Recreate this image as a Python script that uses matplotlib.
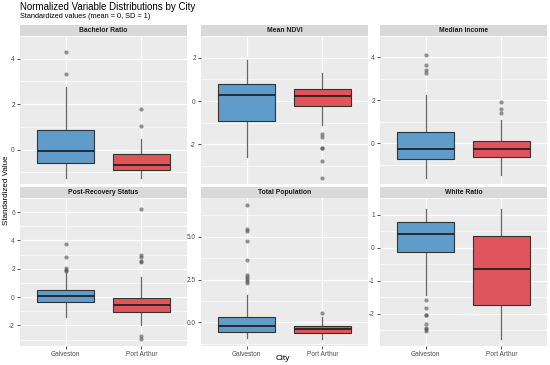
import matplotlib
matplotlib.use("Agg")
import matplotlib.pyplot as plt
import numpy as np

plt.rcParams["font.family"] = ["Liberation Sans", "DejaVu Sans"]

# Painéis e cidades
paineis = ["Bachelor Ratio", "Mean NDVI", "Median Income",
           "Post-Recovery Status", "Total Population", "White Ratio"]
cidades = ["Galveston", "Port Arthur"]

# Estatísticas do boxplot - Galveston
galv_whislo = [-1.24, -2.60, -1.60, -1.39, -0.94, -1.42]
galv_q1 = [-0.60, -0.93, -0.74, -0.34, -0.55, -0.12]
galv_med = [-0.07, 0.28, -0.24, 0.07, -0.20, 0.40]
galv_q3 = [0.87, 0.77, 0.54, 0.48, 0.33, 0.78]
galv_whishi = [2.76, 1.89, 2.27, 1.72, 1.60, 1.17]
galv_fliers = [
    [4.30, 3.31],
    [],
    [4.13, 3.66, 3.42, 3.28],
    [3.75, 2.81, 2.08, 1.95, 1.81],
    [6.88, 5.44, 5.36, 4.77, 3.63, 2.75, 2.63, 2.51, 2.43, 2.32],
    [-1.60, -1.83, -2.03, -2.05, -2.32, -2.43, -2.47, -2.53],
]

# Port Arthur
pa_whislo = [-1.24, -1.11, -1.48, -1.94, -0.99, -2.78]
pa_q1 = [-0.92, -0.22, -0.64, -1.05, -0.62, -1.75]
pa_med = [-0.67, 0.24, -0.28, -0.57, -0.39, -0.65]
pa_q3 = [-0.19, 0.58, 0.12, -0.09, -0.20, 0.35]
pa_whishi = [0.45, 1.30, 1.11, 1.40, 0.33, 1.17]
pa_fliers = [
    [1.80, 1.04],
    [-1.52, -1.65, -2.18, -2.18, -2.75, -3.55],
    [1.94, 1.61, 1.43],
    [6.23, 3.01, 2.85, 2.56, 2.49, -2.71, -2.99],
    [0.53],
    [],
]

# Marcas do eixo y por painel
yticks = [[0, 2, 4], [-2, 0, 2], [0, 2, 4], [-2, 0, 2, 4, 6],
          [0.0, 2.5, 5.0], [-2, -1, 0, 1]]
yticklabels = [["0", "2", "4"], ["-2", "0", "2"], ["0", "2", "4"],
               ["-2", "0", "2", "4", "6"], ["0.0", "2.5", "5.0"],
               ["-2", "-1", "0", "1"]]

cores = ["#5f9cca", "#e0555c"]

W, H = 550, 365
fig = plt.figure(figsize=(W / 100, H / 100), dpi=100)
fig.patch.set_facecolor("white")

# posições em pixels: (esquerda, topo, largura, altura)
xs = [20, 201, 380]
ys = [36, 198]
pw, ph = 167, 148
strip_h = 11


def px_axes(x, y, w, h):
    return fig.add_axes([x / W, 1 - (y + h) / H, w / W, h / H])


for i, nome in enumerate(paineis):
    col, row = i % 3, i // 3
    x0, y0 = xs[col], ys[row]
    ax = px_axes(x0, y0, pw, ph)
    ax.set_facecolor("#EBEBEB")

    stats = []
    for c, (lo, q1, md, q3, hi, fl) in enumerate([
        (galv_whislo, galv_q1, galv_med, galv_q3, galv_whishi, galv_fliers),
        (pa_whislo, pa_q1, pa_med, pa_q3, pa_whishi, pa_fliers),
    ]):
        stats.append(dict(whislo=lo[i], q1=q1[i], med=md[i], q3=q3[i],
                          whishi=hi[i], fliers=fl[i], label=cidades[c]))

    bp = ax.bxp(stats, positions=[1, 2], widths=0.75, patch_artist=True,
                showcaps=False, manage_ticks=False,
                boxprops=dict(edgecolor="#333333", linewidth=0.8),
                medianprops=dict(color="#222222", linewidth=1.3),
                whiskerprops=dict(color="#666666", linewidth=0.9),
                flierprops=dict(marker="o", markersize=3.0,
                                markerfacecolor="#4d4d4d",
                                markeredgecolor="none", alpha=0.6))
    for patch, cor in zip(bp["boxes"], cores):
        patch.set_facecolor(cor)
        patch.set_zorder(3)
    for m in bp["medians"]:
        m.set_zorder(4)

    # limites com expansão de 5% como no ggplot
    vals = []
    for s in stats:
        vals += [s["whislo"], s["whishi"]] + list(s["fliers"])
    lo, hi = min(vals), max(vals)
    pad = (hi - lo) * 0.05
    ax.set_ylim(lo - pad, hi + pad)
    ax.set_xlim(0.4, 2.6)

    yt = yticks[i]
    step = yt[1] - yt[0]
    minors = [t - step / 2 for t in yt] + [yt[-1] + step / 2]
    ax.set_yticks(yt)
    ax.set_yticklabels(yticklabels[i])
    ax.set_yticks(minors, minor=True)
    ax.set_xticks([1, 2])
    if row == 1:
        ax.set_xticklabels(cidades)
    else:
        ax.set_xticklabels([])

    ax.grid(True, which="major", color="white", linewidth=0.9, zorder=0)
    ax.grid(True, which="minor", axis="y", color="white", linewidth=0.45,
            zorder=0)
    ax.set_axisbelow(True)
    ax.tick_params(which="major", length=2.2, width=0.6, color="#333333",
                   labelsize=4.7, labelcolor="#4D4D4D", pad=1.5)
    ax.tick_params(which="minor", length=0)
    if row == 0:
        ax.tick_params(axis="x", length=0)
    for sp in ax.spines.values():
        sp.set_visible(False)

    # faixa do título do painel
    sax = px_axes(x0, y0 - strip_h, pw, strip_h)
    sax.set_facecolor("#D9D9D9")
    sax.set_xticks([])
    sax.set_yticks([])
    for sp in sax.spines.values():
        sp.set_visible(False)
    sax.text(0.5, 0.5, nome, ha="center", va="center", fontsize=4.9,
             fontweight="bold", color="#1A1A1A", transform=sax.transAxes)

fig.text(20 / W, 1 - 7 / H, "Normalized Variable Distributions by City",
         fontsize=7.0, color="black", ha="left", va="center")
fig.text(20 / W, 1 - 17 / H, "Standardized values (mean = 0, SD = 1)",
         fontsize=5.3, color="black", ha="left", va="center")
fig.text(7 / W, 1 - 190 / H, "Standardized Value", rotation=90,
         fontsize=5.8, ha="center", va="center")
fig.text(283 / W, 1 - 358 / H, "City", fontsize=6.0, ha="center",
         va="center")

fig.savefig("out.png", dpi=100)
